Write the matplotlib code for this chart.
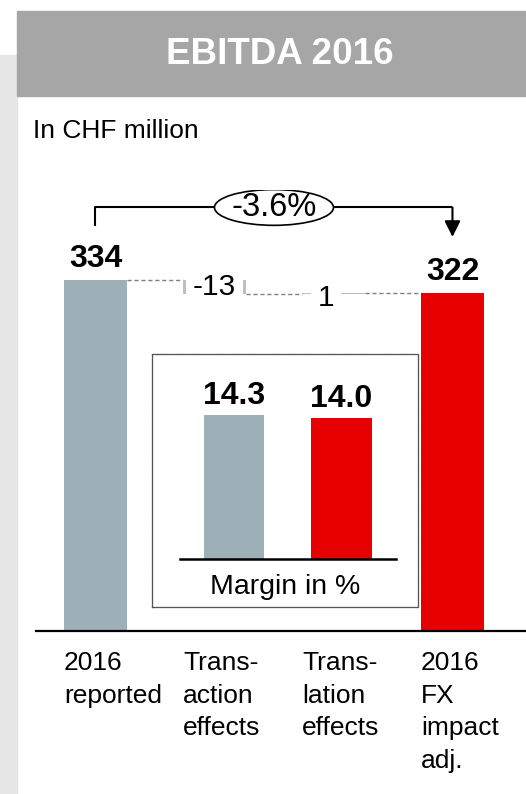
import matplotlib
matplotlib.use("Agg")
import matplotlib.pyplot as plt
from matplotlib.patches import Rectangle, Ellipse

plt.rcParams['font.family'] = ['Liberation Sans', 'DejaVu Sans']

# data
categories = ["2016\nreported", "Trans-\naction\neffects", "Trans-\nlation\neffects", "2016\nFX\nimpact\nadj."]
values = [334, -13, 1, 322]
kinds = ["total", "delta", "delta", "total"]
margin_labels = ["2016 reported", "2016 FX impact adj."]
margin_values = [14.3, 14.0]

GREY = "#9eb0b7"
RED = "#e60000"
LIGHT = "#bfbfbf"

W, H = 526, 794
fig = plt.figure(figsize=(W / 100, H / 100), dpi=100)


def box(x0, y0, x1, y1):
    # pixel box (top-left origin) -> figure fraction [l, b, w, h]
    return [x0 / W, 1 - y1 / H, (x1 - x0) / W, (y1 - y0) / H]


# background pieces
l, b, w, h = box(0, 55, 17, 794)
fig.add_artist(Rectangle((l, b), w, h, transform=fig.transFigure, color="#e6e6e6", zorder=0))
l, b, w, h = box(17, 11, 526, 96)
fig.add_artist(Rectangle((l, b), w, h, transform=fig.transFigure, color="#a6a6a6", zorder=0))
fig.text(280 / W, 1 - 54 / H, "EBITDA 2016", color="white", fontsize=26.5, fontweight="bold",
         ha="center", va="center")
fig.text(33 / W, 1 - 131 / H, "In CHF million", fontsize=19, ha="left", va="center")

# main waterfall
ax = fig.add_axes(box(36, 189.6, 526, 631))
ax.set_xlim(-0.5, 3.618)
ax.set_ylim(0, 420)
for s in ["top", "right", "left"]:
    ax.spines[s].set_visible(False)
ax.spines["bottom"].set_linewidth(1.6)
ax.set_xticks([])
ax.set_yticks([])
ax.patch.set_alpha(0)

bw = 0.53
level = 0
tops = []
for i, (v, k) in enumerate(zip(values, kinds)):
    if k == "total":
        ax.bar(i, v, width=bw, color=GREY if i == 0 else RED, zorder=2)
        ax.annotate(str(v), (i, v), xytext=(0, 9), textcoords="offset points",
                    ha="center", va="baseline", fontsize=23, fontweight="bold")
        level = v
        tops.append((level, level))
    else:
        new = level + v
        ax.bar(i, abs(v), bottom=min(level, new), width=bw, color=LIGHT, zorder=2)
        txt = str(v)
        yc = (level + new) / 2 if abs(v) > 5 else min(level, new) - 4
        ax.text(i - (0.06 if abs(v) <= 5 else 0), yc, txt, ha="center", va="center", fontsize=21.5,
                zorder=4, bbox=dict(boxstyle="square,pad=0.22", fc="white", ec="none"))
        tops.append((level, new))
        level = new

# dashed connectors
for i in range(len(values) - 1):
    y = tops[i][1]
    ax.plot([i + bw / 2, i + 1 - bw / 2], [y, y], color="#808080", lw=1, ls=(0, (3, 2)), zorder=1)

# bracket with change
start, end = values[0], values[-1]
pct = (end - start) / start * 100
y_low, y_top, y_tip = start + 51, start + 69, end + 53
ax.plot([0, 0, 3], [y_low, y_top, y_top], color="black", lw=1.5, solid_capstyle="butt")
ax.annotate("", xy=(3, y_tip), xytext=(3, y_top),
            arrowprops=dict(arrowstyle="-|>", mutation_scale=24, color="black", lw=1.5,
                            shrinkA=0, shrinkB=0))
ax.add_patch(Ellipse((1.5, y_top), 1.0, 34, fc="white", ec="black", lw=1.2, zorder=3))
ax.text(1.5, y_top, f"{pct:.1f}%", ha="center", va="center", fontsize=23.5, zorder=4)

# category labels
for i, c in enumerate(categories):
    ax.text(i - bw / 2, -0.045, c, transform=ax.get_xaxis_transform(), ha="left", va="top",
            fontsize=19, linespacing=1.46)

# margin inset
ins = fig.add_axes(box(152, 354, 418, 607))
ins.set_xlim(-0.763, 1.712)
ins.set_ylim(-4.77, 20.36)
ins.set_xticks([])
ins.set_yticks([])
for s in ins.spines.values():
    s.set_linestyle((0, (0.7, 0.7)))
    s.set_linewidth(0.9)
    s.set_color("#555555")
ins.bar([0, 1], margin_values, width=0.56, color=[GREY, RED], zorder=2)
ins.plot([-0.502, 1.507], [0, 0], color="black", lw=1.8, zorder=3)
for i, v in enumerate(margin_values):
    ins.annotate(f"{v:.1f}", (i, v), xytext=(0, 8), textcoords="offset points",
                 ha="center", va="baseline", fontsize=23, fontweight="bold")
ins.text(0.48, -2.75, "Margin in %", ha="center", va="center", fontsize=20.5)

fig.savefig("out.png", dpi=100)
